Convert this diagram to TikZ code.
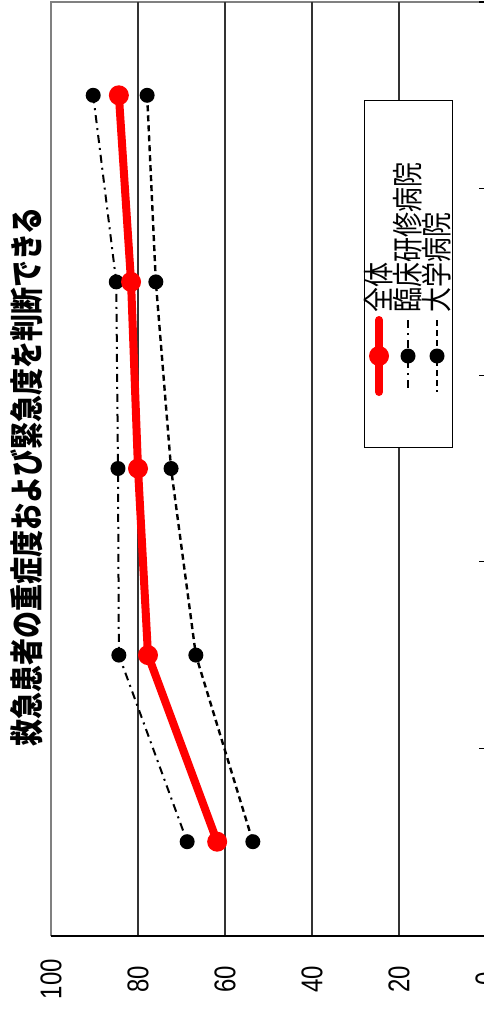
\documentclass[tikz,border=0pt]{standalone}
\usepackage{fontspec}
\setmainfont{Liberation Sans}
\newfontfamily\jpfont{Noto Sans CJK JP}
\usetikzlibrary{calc}

\begin{document}
\begin{tikzpicture}[x=1pt,y=-1pt,
	grid/.style={draw=black!80,line width=1.2pt},
	frame/.style={draw=black!50,line width=1.8pt},
	lbl/.style={rotate=90,yscale=1.25,inner sep=0pt,font=\fontsize{24}{24}\selectfont},
	jplbl/.style={lbl,anchor=west,font=\fontsize{25}{25}\jpfont},
	allline/.style={red,line width=8pt,line cap=round,line join=round},
	clinline/.style={line width=2pt,dash pattern=on 8pt off 5pt on 2pt off 5pt},
	univline/.style={line width=2.4pt,dash pattern=on 6pt off 4pt},
	redmark/.style={circle,fill=red,minimum size=20pt,inner sep=0pt},
	dot/.style={circle,fill=black,minimum size=15pt,inner sep=0pt}]
	\useasboundingbox (0,0) rectangle (483,1011);
	% plot area
	\draw[frame] (51,936) -- (51,2) -- (490,2);
	\foreach \v in {80,60,40,20} \draw[grid] ({486-4.35*\v},2) -- ({486-4.35*\v},936);
	\draw[line width=2pt] (51,936) -- (490,936);
	\foreach \t in {2,188.6,375.2,561.8,748.4} \draw[line width=1.2pt] (479,\t) -- (490,\t);
	\foreach \v in {100,80,60,40,20,0} \node[lbl] (V\v) at ({486-4.35*\v},979) {\v};
	\node[lbl,font=\fontsize{27}{27}\jpfont\bfseries] (T) at (27,477) {救急患者の重症度および緊急度を判断できる};
	% data
	\foreach \a/\c/\u [count=\i] in {84.4/90.3/77.9,81.6/85.0/75.9,80.0/84.6/72.4,77.7/84.4/66.7,61.8/68.7/53.6} {
		\coordinate (A\i) at ({486-4.35*\a},{95.3+186.6*(\i-1)});
		\coordinate (C\i) at ({486-4.35*\c},{95.3+186.6*(\i-1)});
		\coordinate (U\i) at ({486-4.35*\u},{95.3+186.6*(\i-1)});
	}
	\draw[clinline] (C1) -- (C2) -- (C3) -- (C4) -- (C5);
	\draw[univline] (U1) -- (U2) -- (U3) -- (U4) -- (U5);
	\draw[allline] (A1) -- (A2) -- (A3) -- (A4) -- (A5);
	\foreach \i in {1,...,5} {
		\node[dot] (Cm\i) at (C\i) {};
		\node[dot] (Um\i) at (U\i) {};
		\node[redmark] (Am\i) at (A\i) {};
	}
	% legend
	\node[draw,fill=white,line width=1pt,minimum width=88pt,minimum height=346pt,inner sep=0pt] (L) at (408,274) {};
	\coordinate (LA1) at (379,320); \coordinate (LA2) at (379,392);
	\coordinate (LC1) at (408,320); \coordinate (LC2) at (408,392);
	\coordinate (LU1) at (437,320); \coordinate (LU2) at (437,392);
	\draw[allline] (LA1) -- (LA2); \draw[clinline] (LC1) -- (LC2); \draw[univline] (LU1) -- (LU2);
	\node[redmark] (LAm) at ($(LA1)!0.5!(LA2)$) {};
	\node[dot] (LCm) at ($(LC1)!0.5!(LC2)$) {};
	\node[dot] (LUm) at ($(LU1)!0.5!(LU2)$) {};
	\node[jplbl] (LAt) at (379,313) {全体};
	\node[jplbl] (LCt) at (408,313) {臨床研修病院};
	\node[jplbl] (LUt) at (437,313) {大学病院};
\end{tikzpicture}
\end{document}
